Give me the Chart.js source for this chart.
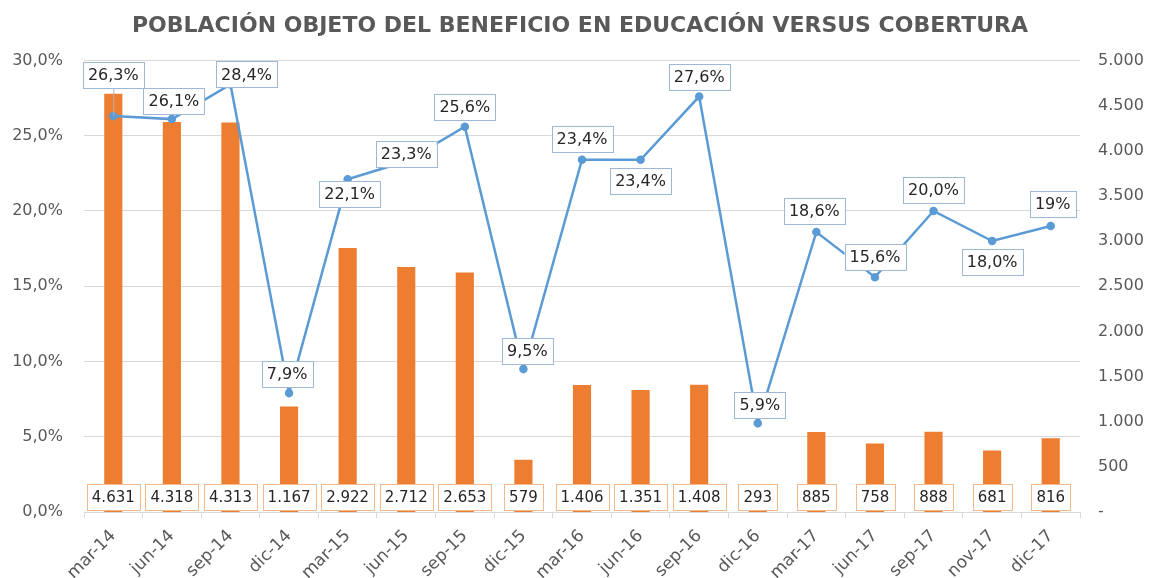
<!DOCTYPE html>
<html>
<head>
<title>Población objeto del beneficio en educación versus cobertura</title>
<script src="https://cdn.jsdelivr.net/npm/chart.js"></script>
<style>
  body { margin: 0; background: #fff; }
  #wrap { width: 1160px; height: 578px; }
</style>
</head>
<body>
<div id="wrap"><canvas id="myChart" width="1160" height="578"></canvas></div>
<script>
// datos
const periodos = ['mar-14', 'jun-14', 'sep-14', 'dic-14', 'mar-15', 'jun-15', 'sep-15', 'dic-15',
                  'mar-16', 'jun-16', 'sep-16', 'dic-16', 'mar-17', 'jun-17', 'sep-17', 'nov-17', 'dic-17'];
const poblacion = [4631, 4318, 4313, 1167, 2922, 2712, 2653, 579, 1406, 1351, 1408, 293, 885, 758, 888, 681, 816];
const cobertura = [26.3, 26.1, 28.4, 7.9, 22.1, 23.3, 25.6, 9.5, 23.4, 23.4, 27.6, 5.9, 18.6, 15.6, 20.0, 18.0, 19.0];
const etiquetasCobertura = ['26,3%', '26,1%', '28,4%', '7,9%', '22,1%', '23,3%', '25,6%', '9,5%', '23,4%',
                            '23,4%', '27,6%', '5,9%', '18,6%', '15,6%', '20,0%', '18,0%', '19%'];
const ticksIzq = ['0,0%', '5,0%', '10,0%', '15,0%', '20,0%', '25,0%', '30,0%'];
const ticksDer = ['-', '500', '1.000', '1.500', '2.000', '2.500', '3.000', '3.500', '4.000', '4.500', '5.000'];

// desplazamiento de cada etiqueta de la línea respecto a su punto (px)
const despl = [[0, -41], [2, -18], [16, -10], [-2, -19], [2, 15], [0, -7], [0, -20], [4, -18], [0, -21],
               [0, 21], [0, -20], [2, -18], [-2, -21], [0, -20], [0, -21], [0, 21], [2, -22]];

const FUENTE = '"DejaVu Sans", sans-serif';

function caja(ctx, texto, cx, cy, borde, tam) {
    ctx.font = tam + 'px ' + FUENTE;
    const w = ctx.measureText(texto).width + 10;
    const h = 26;
    ctx.fillStyle = '#ffffff';
    ctx.fillRect(cx - w / 2, cy - h / 2, w, h);
    ctx.strokeStyle = borde;
    ctx.lineWidth = 1;
    ctx.strokeRect(Math.round(cx - w / 2) + 0.5, Math.round(cy - h / 2) + 0.5, Math.round(w), h);
    ctx.fillStyle = '#262626';
    ctx.textAlign = 'center';
    ctx.textBaseline = 'middle';
    ctx.fillText(texto, cx, cy + 1);
}

const etiquetas = {
    id: 'etiquetas',
    afterDatasetsDraw(chart) {
        const ctx = chart.ctx;
        ctx.save();
        const barras = chart.getDatasetMeta(0).data;
        const base = chart.scales.y2.getPixelForValue(0);
        barras.forEach((b, i) => {
            caja(ctx, poblacion[i].toLocaleString('de-DE'), b.x, base - 15, '#f2b98f', 15);
        });
        const puntos = chart.getDatasetMeta(1).data;
        puntos.forEach((p, i) => {
            const [dx, dy] = despl[i];
            if (Math.abs(dy) > 30) {
                ctx.strokeStyle = '#b4b4b4';
                ctx.lineWidth = 1;
                ctx.beginPath();
                ctx.moveTo(p.x + 0.5, p.y);
                ctx.lineTo(p.x + 0.5, p.y + dy + 13);
                ctx.stroke();
            }
            caja(ctx, etiquetasCobertura[i], p.x + dx, p.y + dy, '#9fb8d8', 16);
        });
        ctx.restore();
    }
};

new Chart(document.getElementById('myChart').getContext('2d'), {
    data: {
        labels: periodos,
        datasets: [
            {
                type: 'bar',
                label: 'Población objeto',
                data: poblacion,
                yAxisID: 'y2',
                backgroundColor: '#ed7d31',
                barPercentage: 0.62,
                categoryPercentage: 0.5,
                order: 2
            },
            {
                type: 'line',
                label: 'Cobertura',
                data: cobertura,
                yAxisID: 'y',
                borderColor: '#5b9bd5',
                backgroundColor: '#5b9bd5',
                borderWidth: 2.5,
                pointRadius: 3,
                tension: 0,
                order: 1
            }
        ]
    },
    options: {
        responsive: false,
        animation: false,
        layout: { padding: { top: 0, right: 0, bottom: 0, left: 0 } },
        plugins: {
            legend: { display: false },
            tooltip: { enabled: false },
            title: {
                display: true,
                text: 'POBLACIÓN OBJETO DEL BENEFICIO EN EDUCACIÓN VERSUS COBERTURA',
                color: '#595959',
                font: { family: FUENTE, size: 22, weight: 'bold' },
                padding: { top: 13, bottom: 21 }
            }
        },
        scales: {
            x: {
                offset: true,
                grid: { display: true, drawOnChartArea: false, drawTicks: true, tickLength: 6, color: '#d9d9d9', offset: true },
                border: { color: '#d9d9d9' },
                ticks: {
                    color: '#595959',
                    font: { family: FUENTE, size: 17 },
                    maxRotation: 45,
                    minRotation: 45,
                    padding: 8
                },
                afterFit(s) { s.height = 66; }
            },
            y: {
                position: 'left',
                min: 0,
                max: 30,
                ticks: {
                    stepSize: 5,
                    color: '#595959',
                    font: { family: FUENTE, size: 16 },
                    padding: 21,
                    callback: (v, i) => ticksIzq[i]
                },
                grid: { color: '#d9d9d9', drawTicks: false },
                border: { display: false },
                afterFit(s) { s.width = 84; }
            },
            y2: {
                position: 'right',
                min: 0,
                max: 5000,
                ticks: {
                    stepSize: 500,
                    color: '#595959',
                    font: { family: FUENTE, size: 16 },
                    padding: 18,
                    callback: (v, i) => ticksDer[i]
                },
                grid: { display: false, drawTicks: false },
                border: { display: false },
                afterFit(s) { s.width = 80; }
            }
        }
    },
    plugins: [etiquetas]
});
</script>
</body>
</html>
